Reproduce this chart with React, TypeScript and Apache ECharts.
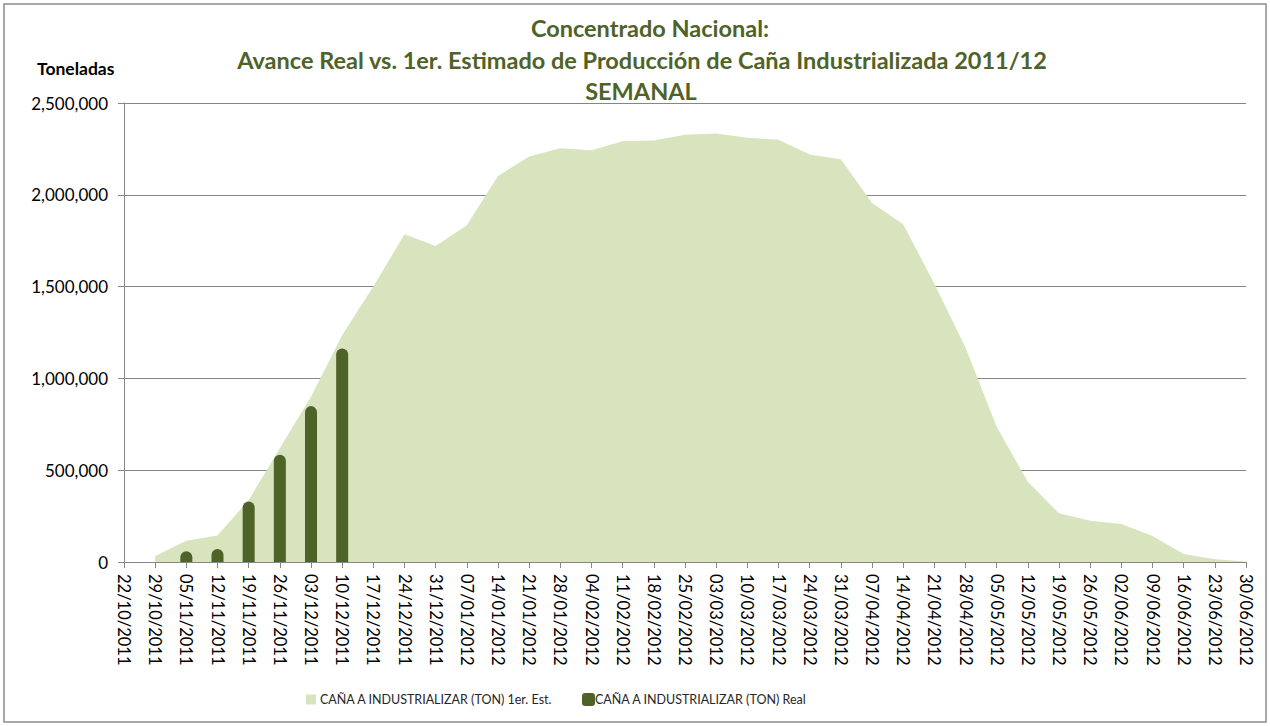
import React, { useEffect, useRef } from "react";
import * as echarts from "echarts";

const categories = [
  "22/10/2011", "29/10/2011", "05/11/2011", "12/11/2011", "19/11/2011", "26/11/2011",
  "03/12/2011", "10/12/2011", "17/12/2011", "24/12/2011", "31/12/2011", "07/01/2012",
  "14/01/2012", "21/01/2012", "28/01/2012", "04/02/2012", "11/02/2012", "18/02/2012",
  "25/02/2012", "03/03/2012", "10/03/2012", "17/03/2012", "24/03/2012", "31/03/2012",
  "07/04/2012", "14/04/2012", "21/04/2012", "28/04/2012", "05/05/2012", "12/05/2012",
  "19/05/2012", "26/05/2012", "02/06/2012", "09/06/2012", "16/06/2012", "23/06/2012",
  "30/06/2012",
];

const estimado = [
  null, 33000, 116000, 145000, 337000, 619000,
  900000, 1235000, 1500000, 1785000, 1721000, 1834000,
  2102000, 2209000, 2253000, 2243000, 2292000, 2296000,
  2327000, 2334000, 2311000, 2300000, 2220000, 2194000,
  1955000, 1839000, 1516000, 1168000, 736000, 437000,
  265000, 225000, 207000, 141000, 44000, 15000,
  3000,
];

const real = [
  null, null, 58000, 71000, 330000, 584000,
  849000, 1163000, null, null, null, null,
  null, null, null, null, null, null,
  null, null, null, null, null, null,
  null, null, null, null, null, null,
  null, null, null, null, null, null,
  null,
];

const seriesNames = [
  "CAÑA A INDUSTRIALIZAR (TON) 1er. Est.",
  "CAÑA A INDUSTRIALIZAR (TON) Real",
];

const titleLines = [
  "Concentrado Nacional:",
  "Avance Real vs. 1er. Estimado de Producción de Caña Industrializada 2011/12",
  "SEMANAL",
];

const FONT = "Lato";
const TITLE_COLOR = "#4F6228";
const AREA_COLOR = "#D7E4BD";
const BAR_COLOR = "#4F6228";

export default function App() {
  const ref = useRef<HTMLDivElement>(null);

  useEffect(() => {
    if (!ref.current) return;
    const chart = echarts.init(ref.current, undefined, { renderer: "svg" });
    const titleX = [650, 642, 641];
    const option: any = {
      animation: false,
      backgroundColor: "#ffffff",
      textStyle: { fontFamily: FONT },
      graphic: [
        {
          type: "rect",
          shape: { x: 4, y: 4, width: 1262, height: 718 },
          style: { fill: "none", stroke: "#8c8c8c", lineWidth: 1.5 },
          silent: true,
        },
        ...titleLines.map((t, i) => ({
          type: "text",
          x: titleX[i],
          y: 28 + i * 31.5,
          style: {
            text: t,
            fill: TITLE_COLOR,
            font: `bold 23.5px ${FONT}`,
            textAlign: "center",
            textVerticalAlign: "middle",
          },
        })),
        {
          type: "text",
          x: 37,
          y: 68,
          style: {
            text: "Toneladas",
            fill: "#000",
            font: `bold 17.5px ${FONT}`,
            textAlign: "left",
            textVerticalAlign: "middle",
          },
        },
      ],
      legend: [
        {
          data: [{ name: seriesNames[0], icon: "rect" }],
          left: 301,
          top: 688,
          itemWidth: 10,
          itemHeight: 10,
          itemGap: 4,
          textStyle: { fontFamily: FONT, fontSize: 12.5, color: "#262626", padding: [0, 0, 0, -1] },
        },
        {
          data: [{ name: seriesNames[1], icon: "roundRect" }],
          left: 577,
          top: 688,
          itemWidth: 13,
          itemHeight: 13,
          textStyle: { fontFamily: FONT, fontSize: 12.5, color: "#262626", padding: [0, 0, 0, -5] },
        },
      ],
      grid: { left: 124, right: 24, top: 103, bottom: 164, containLabel: false },
      xAxis: {
        type: "category",
        data: categories,
        boundaryGap: false,
        axisLine: { lineStyle: { color: "#868686", width: 1 } },
        axisTick: { show: true, alignWithLabel: true, length: 6, lineStyle: { color: "#868686" } },
        axisLabel: {
          rotate: -90,
          interval: 0,
          margin: 12,
          fontFamily: FONT,
          fontSize: 16.5,
          color: "#000",
        },
        splitLine: { show: false },
      },
      yAxis: {
        type: "value",
        min: 0,
        max: 2500000,
        interval: 500000,
        axisLine: { show: true, lineStyle: { color: "#868686", width: 1 } },
        axisTick: { show: true, length: 6, lineStyle: { color: "#868686" } },
        axisLabel: {
          margin: 16,
          fontFamily: FONT,
          fontSize: 17,
          color: "#000",
          formatter: (v: number) => v.toLocaleString("en-US"),
        },
        splitLine: { show: true, lineStyle: { color: "#868686", width: 1 } },
      },
      series: [
        {
          name: seriesNames[0],
          type: "line",
          data: estimado,
          symbol: "none",
          lineStyle: { width: 0, color: AREA_COLOR },
          itemStyle: { color: AREA_COLOR },
          areaStyle: { color: AREA_COLOR, opacity: 1 },
          z: 1,
        },
        {
          name: seriesNames[1],
          type: "bar",
          data: real,
          barWidth: 12,
          itemStyle: { color: BAR_COLOR, borderRadius: [6, 6, 0, 0] },
          z: 2,
        },
      ],
    };
    chart.setOption(option);
    return () => chart.dispose();
  }, []);

  return (
    <div
      ref={ref}
      style={{ position: "fixed", left: 0, top: 0, width: 1270, height: 726 }}
    />
  );
}
